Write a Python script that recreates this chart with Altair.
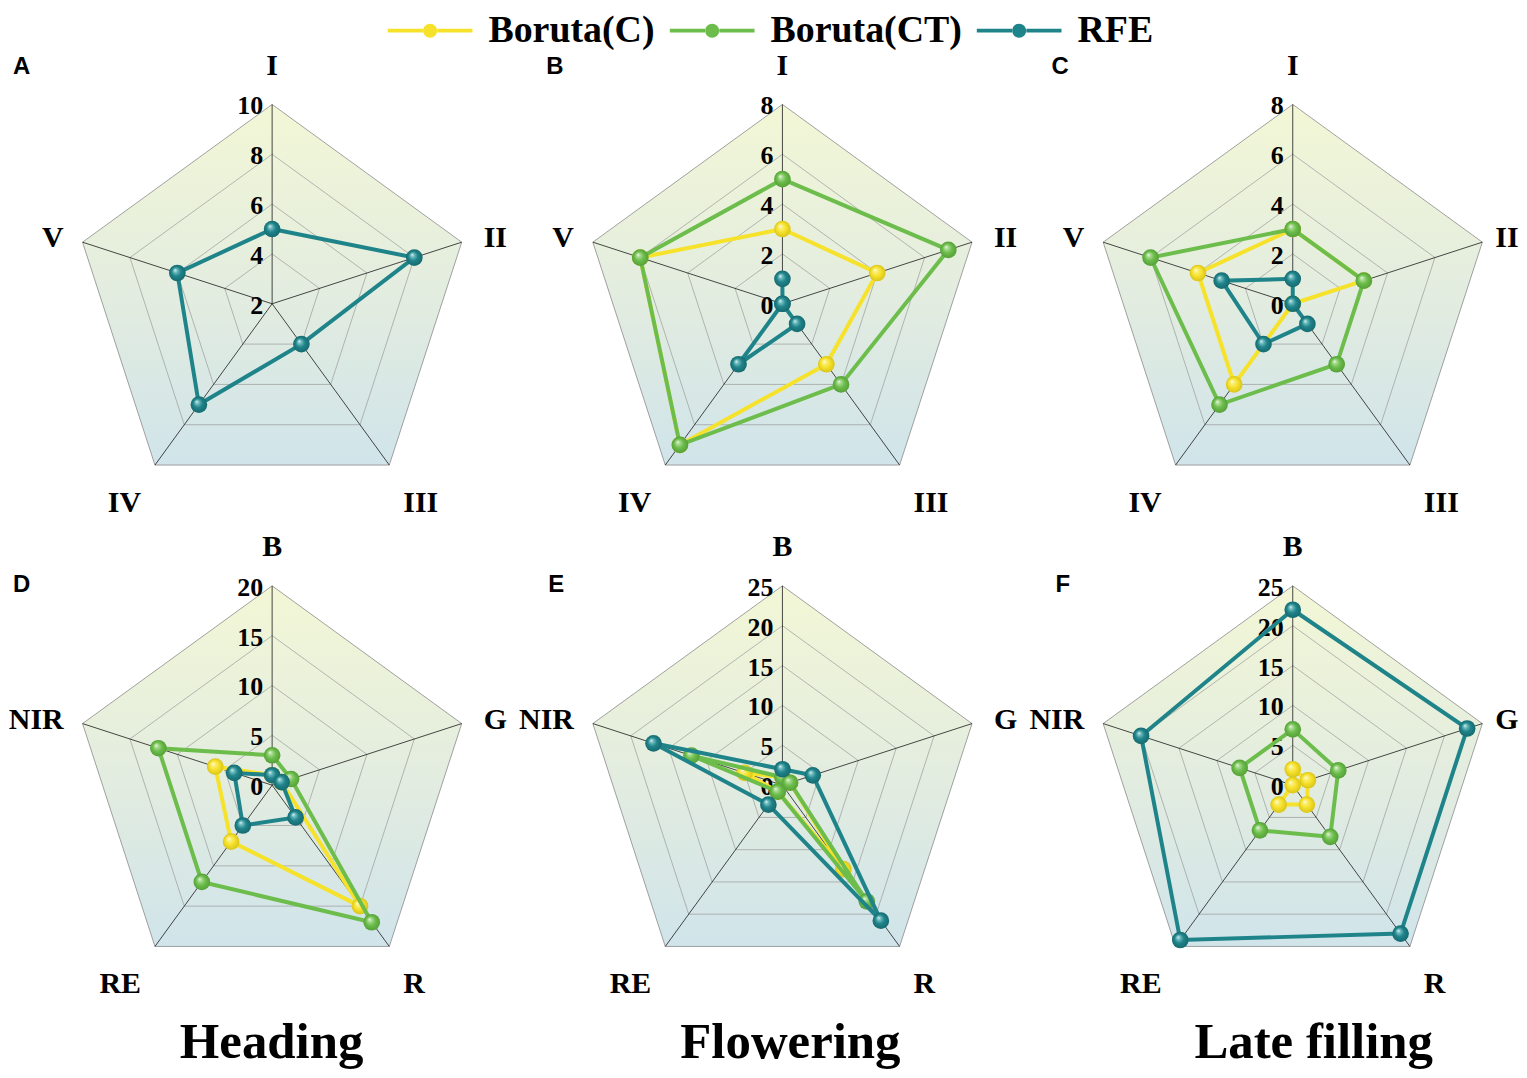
import altair as alt
import pandas as pd

# ---------------- data ----------------
SERIES = ["Boruta(C)", "Boruta(CT)", "RFE"]
COLORS = ["#F6E22B", "#6CBD4B", "#1F848A"]
HILITE = ["#FFFDE8", "#F0FAEA", "#E6F5F5"]
MID = ["#FBEE7C", "#A9DB92", "#6FBCC0"]
EDGE = ["#D9C41A", "#55A038", "#166A70"]

GROWTH_AXES = ["I", "II", "III", "IV", "V"]
BAND_AXES = ["B", "G", "R", "RE", "NIR"]

TICKS_A = [2, 4, 6, 8, 10]
TICKS_B = [0, 2, 4, 6, 8]
TICKS_C = [0, 2, 4, 6, 8]
TICKS_D = [0, 5, 10, 15, 20]
TICKS_E = [0, 5, 10, 15, 20, 25]
TICKS_F = [0, 5, 10, 15, 20, 25]

A_RFE = [5, 8, 4, 7, 6]

B_C = [3, 4, 3, 7, 6]
B_CT = [5, 7, 4, 7, 6]
B_RFE = [1, 0, 1, 3, 0]

C_C = [3, 3, 0, 4, 4]
C_CT = [3, 3, 3, 5, 6]
C_RFE = [1, 0, 1, 2, 3]

D_C = [1, 1, 15, 7, 6]
D_CT = [3, 2, 17, 12, 12]
D_RFE = [1, 1, 4, 5, 4]

E_C = [1, 1, 13, 1, 5]
E_CT = [1, 1, 18, 1, 12]
E_RFE = [2, 4, 21, 3, 17]

F_C = [2, 2, 3, 3, 0]
F_CT = [7, 6, 8, 7, 7]
F_RFE = [22, 23, 23, 24, 20]

STAGES = ["Heading", "Flowering", "Late filling"]

# ---------------- style / layout ----------------
SERIF = "Liberation Serif"
SANS = "Liberation Sans"
CX_PX, CY_PX, R_PX, H = 260, 295, 200, 483

PANELS = [
    dict(letter="A", axes=GROWTH_AXES, ticks=TICKS_A, series={"RFE": A_RFE},
         width=512, lx=0, ly=64, rdx=22),
    dict(letter="B", axes=GROWTH_AXES, ticks=TICKS_B,
         series={"Boruta(C)": B_C, "Boruta(CT)": B_CT, "RFE": B_RFE},
         width=512, lx=23, ly=64, rdx=22),
    dict(letter="C", axes=GROWTH_AXES, ticks=TICKS_C,
         series={"Boruta(C)": C_C, "Boruta(CT)": C_CT, "RFE": C_RFE},
         width=480, lx=18, ly=64, rdx=13),
    dict(letter="D", axes=BAND_AXES, ticks=TICKS_D,
         series={"Boruta(C)": D_C, "Boruta(CT)": D_CT, "RFE": D_RFE},
         width=512, lx=0, ly=101, rdx=22, title=STAGES[0], tx=259.5),
    dict(letter="E", axes=BAND_AXES, ticks=TICKS_E,
         series={"Boruta(C)": E_C, "Boruta(CT)": E_CT, "RFE": E_RFE},
         width=512, lx=25, ly=101, rdx=22, title=STAGES[1], tx=268),
    dict(letter="F", axes=BAND_AXES, ticks=TICKS_F,
         series={"Boruta(C)": F_C, "Boruta(CT)": F_CT, "RFE": F_RFE},
         width=480, lx=22, ly=101, rdx=13, title=STAGES[2], tx=281),
]

# label placement per axis index: (align, dx, dy); dx of index 1 is per panel
LABEL_POS = [("center", 0, -30), ("left", None, 5), ("left", 14, 47),
             ("right", -14, 47), ("right", -19, 5)]

BG_GRAD = {"gradient": "linear", "x1": 0, "y1": 0, "x2": 0, "y2": 1,
           "stops": [{"offset": 0, "color": "#F3F7D6"},
                     {"offset": 0.55, "color": "#E2ECE0"},
                     {"offset": 1, "color": "#D0E4EA"}]}


def sphere(i):
    return {"gradient": "radial", "x1": 0.36, "y1": 0.32, "r1": 0,
            "x2": 0.5, "y2": 0.5, "r2": 0.5,
            "stops": [{"offset": 0, "color": HILITE[i]},
                      {"offset": 0.22, "color": MID[i]},
                      {"offset": 0.55, "color": COLORS[i]},
                      {"offset": 1, "color": EDGE[i]}]}


LEG_PATH = ("M-4.25,-0.19H-0.72V0.19H-4.25Z "
            "M0.72,-0.19H4.25V0.19H0.72Z "
            "M0.7,0A0.7,0.7,0,1,1,-0.7,0A0.7,0.7,0,1,1,0.7,0Z")

ANG = "2*PI*datum.k/5"


def polar(ch):
    return (ch.transform_calculate(x=f"datum.r*sin({ANG})")
              .transform_calculate(y=f"datum.r*cos({ANG})"))


def radar(p, with_legend=False):
    ticks = p["ticks"]
    vmin, vmax = ticks[0], ticks[-1]
    span = vmax - vmin
    W = p["width"]
    xs = alt.Scale(domain=[-CX_PX / R_PX, (W - CX_PX) / R_PX], nice=False, zero=False)
    ys = alt.Scale(domain=[-(H - CY_PX) / R_PX, CY_PX / R_PX], nice=False, zero=False)
    X = alt.X("x:Q", scale=xs, axis=None)
    Y = alt.Y("y:Q", scale=ys, axis=None)

    axis_df = pd.DataFrame({"k": list(range(5)), "name": p["axes"]})
    layers = []

    # background pentagon with gradient
    bg = polar(alt.Chart(axis_df).transform_calculate(r="1"))
    layers.append(bg.mark_line(interpolate="linear-closed", fill=BG_GRAD,
                               stroke="#8a8a8a", strokeWidth=0.8)
                  .encode(x=X, y=Y, order=alt.Order("k:Q")))

    # rings
    ring_df = pd.DataFrame([{"lvl": t, "k": k} for t in ticks[1:-1] for k in range(5)])
    rings = polar(alt.Chart(ring_df).transform_calculate(r=f"(datum.lvl-{vmin})/{span}"))
    layers.append(rings.mark_line(interpolate="linear-closed", stroke="#9a9a9a",
                                  strokeWidth=0.7)
                  .encode(x=X, y=Y, detail="lvl:Q", order=alt.Order("k:Q")))

    # spokes
    spokes = polar(alt.Chart(axis_df).transform_calculate(r="1")) \
        .transform_calculate(x0="0", y0="0")
    layers.append(spokes.mark_rule(stroke="#1a1a1a", strokeWidth=0.8)
                  .encode(x=alt.X("x0:Q", scale=xs, axis=None),
                          y=alt.Y("y0:Q", scale=ys, axis=None),
                          x2="x:Q", y2="y:Q"))

    # tick labels
    tick_df = pd.DataFrame({"tick": ticks, "label": [str(t) for t in ticks]})
    tl = alt.Chart(tick_df).transform_calculate(
        x="0", y=f"(datum.tick-{vmin})/{span}")
    layers.append(tl.mark_text(align="right", baseline="alphabetic", dx=-9, dy=10,
                               font=SERIF, fontSize=26, fontWeight="bold",
                               color="black")
                  .encode(x=X, y=Y, text="label:N"))

    # series
    for i, name in enumerate(SERIES):
        if name not in p["series"]:
            continue
        vals = p["series"][name]
        sdf = pd.DataFrame({"series": name, "k": list(range(5)), "value": vals})
        base = polar(alt.Chart(sdf).transform_calculate(r=f"(datum.value-{vmin})/{span}"))
        layers.append(base.mark_line(interpolate="linear-closed", stroke=COLORS[i],
                                     strokeWidth=4)
                      .encode(x=X, y=Y, order=alt.Order("k:Q")))
        layers.append(base.mark_circle(size=280, fill=sphere(i), opacity=1,
                                       strokeWidth=0)
                      .encode(x=X, y=Y))

    # axis labels
    for k in range(5):
        align, dx, dy = LABEL_POS[k]
        if dx is None:
            dx = p["rdx"]
        al = polar(alt.Chart(axis_df).transform_filter(f"datum.k == {k}")
                   .transform_calculate(r="1"))
        layers.append(al.mark_text(align=align, baseline="alphabetic", dx=dx, dy=dy,
                                   font=SERIF, fontSize=30, fontWeight="bold",
                                   color="black")
                      .encode(x=X, y=Y, text="name:N"))

    # panel letter
    layers.append(alt.Chart(pd.DataFrame({"t": [p["letter"]]}))
                  .mark_text(align="left", baseline="alphabetic", font=SANS,
                             fontSize=24, fontWeight="bold", color="black")
                  .encode(x=alt.value(p["lx"]), y=alt.value(p["ly"]), text="t:N"))

    # stage title
    if "title" in p:
        layers.append(alt.Chart(pd.DataFrame({"t": [p["title"]]}))
                      .mark_text(align="center", baseline="alphabetic", font=SERIF,
                                 fontSize=51, fontWeight="bold", color="black")
                      .encode(x=alt.value(p["tx"]), y=alt.value(569), text="t:N"))

    if with_legend:
        leg = alt.Chart(pd.DataFrame({"series": SERIES})) \
            .transform_filter("false").transform_calculate(x="0", y="0")
        layers.append(leg.mark_circle(opacity=1).encode(
            x=X, y=Y,
            color=alt.Color("series:N",
                            scale=alt.Scale(domain=SERIES, range=COLORS),
                            legend=alt.Legend(
                                orient="none", legendX=399.5, legendY=2,
                                direction="horizontal", title=None,
                                symbolType=LEG_PATH, symbolSize=400,
                                symbolStrokeWidth=0, symbolOpacity=1,
                                labelFont=SERIF, labelFontSize=38,
                                labelFontWeight="bold", labelColor="black",
                                labelOffset=39.5, columnPadding=14,
                                labelLimit=600, padding=0))))

    return alt.layer(*layers).properties(width=W, height=H)


charts = [radar(p, with_legend=(i == 0)) for i, p in enumerate(PANELS)]

chart = (alt.concat(*charts, columns=3, spacing=0, bounds="flush")
         .properties(padding=0, background="white")
         .configure_view(strokeWidth=0))

chart.save("out.html", embed_options={"renderer": "svg", "actions": False})
